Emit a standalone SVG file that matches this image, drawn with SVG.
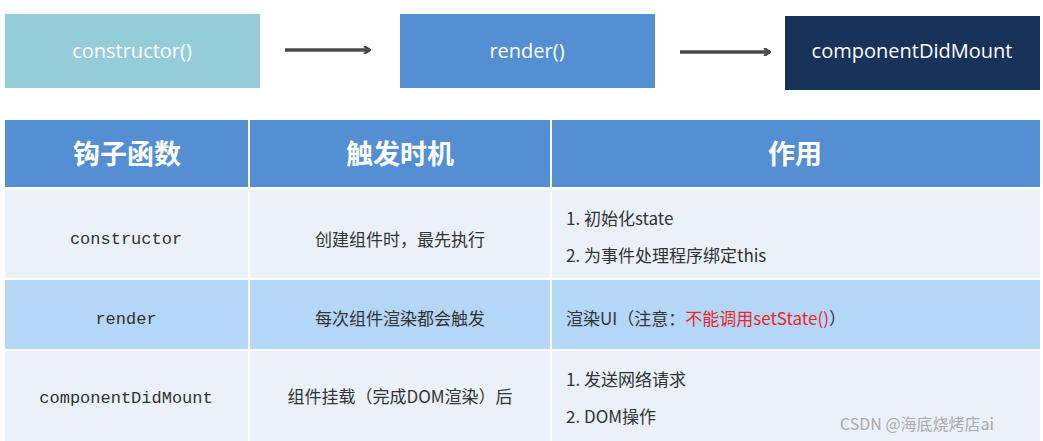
<svg xmlns="http://www.w3.org/2000/svg" width="1043" height="441" viewBox="0 0 1043 441">
<defs>
<marker id="ah" markerWidth="8" markerHeight="8" refX="7" refY="4" orient="auto" markerUnits="userSpaceOnUse"><path d="M1,0 L7,4 L1,8" fill="none" stroke="#4a4a4a" stroke-width="2.5"/></marker>
</defs>
<style>
.b{font-family:"Open Sans","Liberation Sans",sans-serif;font-size:20px;fill:#fff;text-anchor:middle}
.h{font-family:"Noto Sans CJK SC",sans-serif;font-size:27px;font-weight:bold;fill:#fff;text-anchor:middle}
.m{font-family:"Liberation Mono",monospace;font-size:17px;fill:#333;text-anchor:middle}
.c{font-family:"Noto Sans CJK SC",sans-serif;font-size:17px;fill:#333}
.cm{text-anchor:middle}
.w{font-family:"Noto Sans CJK SC",sans-serif;font-size:16px;fill:#aaa}
</style>
<rect width="1043" height="441" fill="#fff"/>
<g id="n1"><rect x="5" y="14" width="255" height="74" fill="#95ccda"/><text class="b" x="132" y="58">constructor()</text></g>
<g id="n2"><rect x="400" y="14" width="255" height="74" fill="#538fd2"/><text class="b" x="527" y="58">render()</text></g>
<g id="n3"><rect x="785" y="16" width="255" height="74" fill="#17335a"/><text class="b" x="912" y="58">componentDidMount</text></g>
<g id="edges" stroke="#4a4a4a" stroke-width="3.5">
<line x1="285" y1="50" x2="370" y2="50" marker-end="url(#ah)"/>
<line x1="680" y1="52" x2="770" y2="52" marker-end="url(#ah)"/>
</g>
<g id="table">
<rect x="5" y="120" width="1035" height="67" fill="#538fd2"/>
<rect x="5" y="190" width="1035" height="88" fill="#eaf1f9"/>
<rect x="5" y="280" width="1035" height="69" fill="#b4d6f7"/>
<rect x="5" y="351" width="1035" height="90" fill="#eaf1f9"/>
<g stroke="#fff" stroke-width="2">
<line x1="249" y1="120" x2="249" y2="441"/><line x1="551" y1="120" x2="551" y2="441"/>
<line x1="5" y1="188" x2="1040" y2="188"/><line x1="5" y1="279" x2="1040" y2="279"/><line x1="5" y1="350" x2="1040" y2="350"/>
</g>
<text class="h" x="127" y="164">钩子函数</text>
<text class="h" x="400" y="164">触发时机</text>
<text class="h" x="795" y="164">作用</text>
<text class="m" x="126" y="244">constructor</text>
<text class="m" x="126" y="324">render</text>
<text class="m" x="126" y="403">componentDidMount</text>
<text class="c cm" x="400" y="246">创建组件时，最先执行</text>
<text class="c cm" x="400" y="325">每次组件渲染都会触发</text>
<text class="c cm" x="400" y="403">组件挂载（完成DOM渲染）后</text>
<text class="c" x="566" y="225">1. 初始化state</text>
<text class="c" x="566" y="262">2. 为事件处理程序绑定this</text>
<text class="c" x="566" y="325">渲染UI（注意：<tspan fill="#e8262b">不能调用setState()</tspan>）</text>
<text class="c" x="566" y="386">1. 发送网络请求</text>
<text class="c" x="566" y="423">2. DOM操作</text>
<text class="w" x="840" y="430">CSDN @海底烧烤店ai</text>
</g>
</svg>
